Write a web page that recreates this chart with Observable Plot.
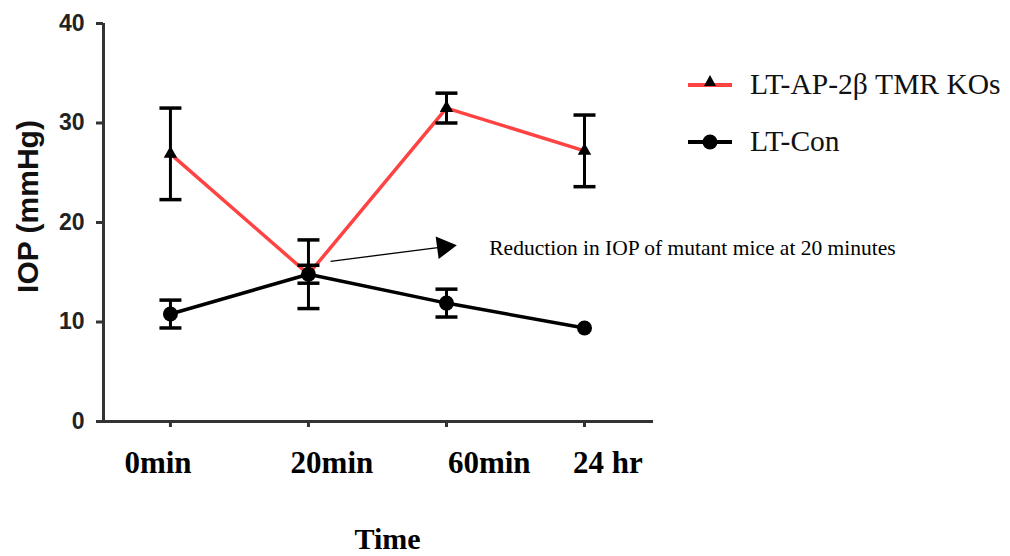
<!DOCTYPE html>
<html>
<head>
<meta charset="utf-8">
<script src="https://cdn.jsdelivr.net/npm/d3@7"></script>
<script src="https://cdn.jsdelivr.net/npm/@observablehq/plot@0.6"></script>
<style>
  html, body { margin: 0; padding: 0; background: #fff; }
  #wrap { position: relative; width: 1010px; height: 556px; overflow: hidden; }
  .leg { position: absolute; left: 688px; font-family: "Liberation Serif", "Times New Roman", serif; font-size: 29.5px; color: #111; display: flex; align-items: center; white-space: nowrap; }
  .leg svg { margin-right: 18px; }
</style>
</head>
<body>
<div id="wrap"></div>
<script>
// ---- data ----
const times = ["0min", "20min", "60min", "24 hr"];
const koName = "LT-AP-2β TMR KOs";
const koMean = [26.9, 14.8, 31.5, 27.2];
const koErr  = [4.6, 3.45, 1.5, 3.6];
const conName = "LT-Con";
const conMean = [10.8, 14.8, 11.9, 9.4];
const conErr  = [1.4, 0.9, 1.4, 0];
const yTicks = [0, 10, 20, 30, 40];
const xLabelPos = [-0.09, 1.17, 2.31, 3.17];
const noteText = "Reduction in IOP of mutant mice at 20 minutes";
const noteFrom = {x: 1.16, y: 16.1};
const noteTo = {x: 1.98, y: 17.55};
const noteTextPos = {x: 2.31, y: 17.4};

const ko = times.map((t, i) => ({i, t, v: koMean[i], err: koErr[i], lo: koMean[i] - koErr[i], hi: koMean[i] + koErr[i]}));
const con = times.map((t, i) => ({i, t, v: conMean[i], err: conErr[i], lo: conMean[i] - conErr[i], hi: conMean[i] + conErr[i]}));
const koBars = ko.filter(d => d.err > 0);
const conBars = con.filter(d => d.err > 0);

const cap = { draw(ctx, size) { const w = Math.sqrt(size / Math.PI); ctx.moveTo(-w, 0); ctx.lineTo(w, 0); } };
const red = "#ff4343";
const axisColor = "#333";

const chart = Plot.plot({
  width: 1010,
  height: 556,
  marginLeft: 103,
  marginRight: 357,
  marginTop: 23,
  marginBottom: 135,
  x: { domain: [-0.485, 3.5], axis: null },
  y: { domain: [0, 40], axis: null },
  marks: [
    Plot.ruleY([0], { stroke: axisColor, strokeWidth: 3 }),
    Plot.ruleX([-0.485], { stroke: axisColor, strokeWidth: 3, y1: 0, y2: 40 }),
    Plot.axisY({ ticks: yTicks, tickSize: 7, tickPadding: 12, fontSize: 23, fontWeight: "bold", fontFamily: "Liberation Sans, Arial, sans-serif", stroke: axisColor, strokeWidth: 3, color: "#222" }),
    Plot.axisX({ ticks: [0, 1, 2, 3], tickSize: 6, tickFormat: () => "", stroke: axisColor, strokeWidth: 3 }),
    Plot.text(times, { x: (d, i) => xLabelPos[i], y: () => 0, dy: 42, fontSize: 31, fontWeight: "bold", fontFamily: "Liberation Serif, Times New Roman, serif", fill: "#000" }),
    Plot.text(["Time"], { frameAnchor: "bottom", textAnchor: "middle", dx: 9, dy: 127, fontSize: 30, fontWeight: "bold", fontFamily: "Liberation Serif, Times New Roman, serif", fill: "#000", lineAnchor: "bottom" }),
    Plot.text(["IOP (mmHg)"], { frameAnchor: "left", textAnchor: "middle", rotate: -90, dx: -75, dy: -16, fontSize: 30, fontWeight: "bold", fontFamily: "Liberation Sans, Arial, sans-serif", fill: "#111", style: "letter-spacing: 0.8px" }),
    // lines
    Plot.line(ko, { x: "i", y: "v", stroke: red, strokeWidth: 3.5 }),
    Plot.line(con, { x: "i", y: "v", stroke: "#000", strokeWidth: 3.5 }),
    // error bars
    Plot.ruleX(koBars, { x: "i", y1: "lo", y2: "hi", stroke: "#000", strokeWidth: 3 }),
    Plot.dot(koBars, { x: "i", y: "lo", symbol: cap, r: 11, stroke: "#000", strokeWidth: 3.5 }),
    Plot.dot(koBars, { x: "i", y: "hi", symbol: cap, r: 11, stroke: "#000", strokeWidth: 3.5 }),
    Plot.ruleX(conBars, { x: "i", y1: "lo", y2: "hi", stroke: "#000", strokeWidth: 3 }),
    Plot.dot(conBars, { x: "i", y: "lo", symbol: cap, r: 11, stroke: "#000", strokeWidth: 3.5 }),
    Plot.dot(conBars, { x: "i", y: "hi", symbol: cap, r: 11, stroke: "#000", strokeWidth: 3.5 }),
    // markers
    Plot.dot(ko, { x: "i", y: "v", symbol: "triangle", r: 5, fill: "#000" }),
    Plot.dot(con, { x: "i", y: "v", symbol: "circle", r: 7.5, fill: "#000" }),
    // annotation
    Plot.link([noteFrom], { x1: "x", y1: "y", x2: () => noteTo.x, y2: () => noteTo.y, stroke: "#000", strokeWidth: 1.3 }),
    Plot.dot([noteTo], { x: "x", y: "y", symbol: "triangle", r: 8.5, rotate: 82.5, fill: "#000" }),
    Plot.text([noteText], { x: () => noteTextPos.x, y: () => noteTextPos.y, textAnchor: "start", fontSize: 21.5, fontFamily: "Liberation Serif, Times New Roman, serif", fill: "#000" })
  ]
});

const wrap = document.getElementById("wrap");
wrap.appendChild(chart);

function legendItem(top, name, color, symbol) {
  const div = document.createElement("div");
  div.className = "leg";
  div.style.top = top + "px";
  const sym = symbol === "triangle"
    ? `<polygon points="22,1 28,12 16,12" fill="#000"/>`
    : `<circle cx="22" cy="11" r="7.5" fill="#000"/>`;
  div.innerHTML = `<svg width="44" height="22" viewBox="0 0 44 22"><line x1="0" y1="11" x2="44" y2="11" stroke="${color}" stroke-width="4"/>${sym}</svg><span>${name}</span>`;
  wrap.appendChild(div);
}
legendItem(68, koName, red, "triangle");
legendItem(125, conName, "#000", "circle");
</script>
</body>
</html>
